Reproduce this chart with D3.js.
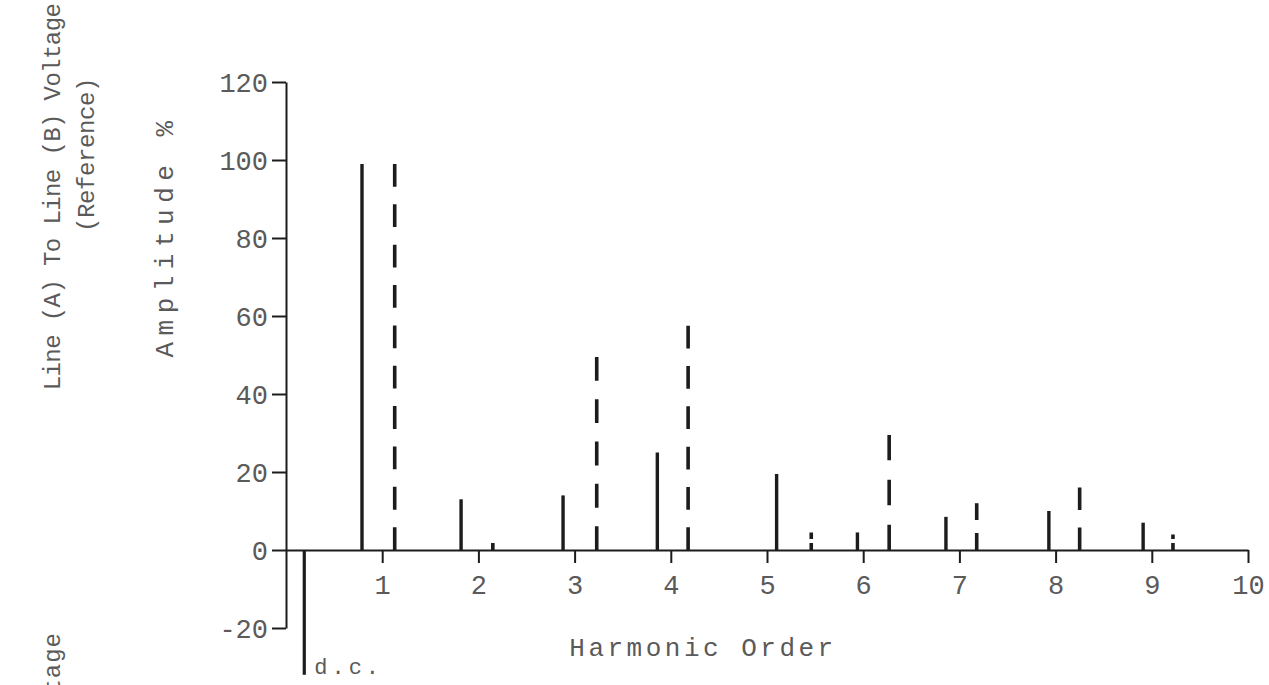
<!DOCTYPE html>
<html>
<head>
<meta charset="utf-8">
<script src="https://cdn.jsdelivr.net/npm/d3@7"></script>
<style>
  html, body { margin: 0; padding: 0; background: #ffffff; }
  svg { display: block; }
  text { font-family: "Liberation Mono", "DejaVu Sans Mono", monospace; fill: #5a5a5a; }
</style>
</head>
<body>
<svg id="chart" width="1269" height="685"></svg>
<script>
// Amplitude axis ticks (%)
const yTicks = [-20, 0, 20, 40, 60, 80, 100, 120];
// Harmonic order ticks
const xTicks = [1, 2, 3, 4, 5, 6, 7, 8, 9, 10];

// d.c. component
const dcPos = [0.19];
const dcValues = [-32];

// Solid lines: line (A) to line (B) voltage spectrum
const solidPos = [0.79, 1.82, 2.88, 3.86, 5.10, 5.94, 6.86, 7.93, 8.91];
const solidValues = [99, 13, 14, 25, 19.5, 4.5, 8.5, 10, 7];

// Dashed lines: reference spectrum
const dashedPos = [1.13, 2.15, 3.23, 4.18, 5.46, 6.27, 7.18, 8.25, 9.22];
const dashedValues = [99, 2.5, 49.5, 57.5, 4.5, 29.5, 12, 16, 4];

const svg = d3.select("#chart");
const ink = "#1c1c1c";

const x = d3.scaleLinear().domain([0, 10]).range([286, 1248]);
const y = d3.scaleLinear().domain([-20, 120]).range([628, 82]);

// Y axis
const yAxis = svg.append("g")
  .attr("transform", `translate(${x(0)},0)`)
  .call(d3.axisLeft(y).tickValues(yTicks).tickSize(14).tickSizeOuter(0).tickPadding(4)
    .tickFormat(d => String(d)));
yAxis.selectAll("path, line").attr("stroke", ink).attr("stroke-width", 2);
yAxis.selectAll("text").style("font-size", "27px").attr("dy", "0.34em");

// X axis
const xAxis = svg.append("g")
  .attr("transform", `translate(0,${y(0)})`)
  .call(d3.axisBottom(x).tickValues(xTicks).tickSize(13).tickSizeOuter(0).tickPadding(14)
    .tickFormat(d => String(d)));
xAxis.select("path.domain").attr("stroke", ink).attr("stroke-width", 2);
xAxis.selectAll("line").attr("stroke", ink).attr("stroke-width", 2);
xAxis.selectAll("text").style("font-size", "27px").attr("dy", "0.62em");

// d.c. line (negative)
svg.append("g").selectAll("line").data(dcPos).join("line")
  .attr("x1", d => x(d)).attr("x2", d => x(d))
  .attr("y1", y(0)).attr("y2", (d, i) => y(dcValues[i]))
  .attr("stroke", ink).attr("stroke-width", 3.2);
svg.append("text")
  .attr("x", x(dcPos[0]) + 10).attr("y", 674)
  .style("font-size", "22px").style("letter-spacing", "4px")
  .text("d.c.");

// Solid spectrum lines
svg.append("g").selectAll("line").data(solidPos).join("line")
  .attr("x1", d => x(d)).attr("x2", d => x(d))
  .attr("y1", y(0)).attr("y2", (d, i) => y(solidValues[i]))
  .attr("stroke", ink).attr("stroke-width", 3.4);

// Dash pattern fitted to a line's length so that it starts and ends on a dash
function fittedDash(len) {
  if (len < 20) return "7,4";
  const dash = 22, gap = 17;
  const n = Math.max(2, Math.round((len + gap) / (dash + gap)));
  const k = len / (n * dash + (n - 1) * gap);
  return `${dash * k},${gap * k}`;
}

// Dashed spectrum lines
svg.append("g").selectAll("line").data(dashedPos).join("line")
  .attr("x1", d => x(d)).attr("x2", d => x(d))
  .attr("y1", y(0)).attr("y2", (d, i) => y(dashedValues[i]))
  .attr("stroke", ink).attr("stroke-width", 3.6)
  .attr("stroke-dasharray", (d, i) => fittedDash(y(0) - y(dashedValues[i])));

// Axis titles
svg.append("text")
  .attr("transform", `translate(703,649)`)
  .attr("text-anchor", "middle").attr("dominant-baseline", "central")
  .style("font-size", "26px").style("letter-spacing", "3.5px")
  .text("Harmonic Order");

svg.append("text")
  .attr("transform", `translate(166,236) rotate(-90)`)
  .attr("text-anchor", "middle").attr("dominant-baseline", "central")
  .style("font-size", "26px").style("letter-spacing", "6.5px")
  .text("Amplitude %");

svg.append("text")
  .attr("transform", `translate(53,197) rotate(-90)`)
  .attr("text-anchor", "middle").attr("dominant-baseline", "central")
  .style("font-size", "24px").style("letter-spacing", "-0.6px")
  .text("Line (A) To Line (B) Voltage");

svg.append("text")
  .attr("transform", `translate(87,155) rotate(-90)`)
  .attr("text-anchor", "middle").attr("dominant-baseline", "central")
  .style("font-size", "24px").style("letter-spacing", "-0.4px")
  .text("(Reference)");

svg.append("text")
  .attr("transform", `translate(53,632) rotate(-90)`)
  .attr("text-anchor", "end").attr("dominant-baseline", "central")
  .style("font-size", "24px").style("letter-spacing", "1px")
  .text("Line (A) To Neutral Voltage");
</script>
</body>
</html>
